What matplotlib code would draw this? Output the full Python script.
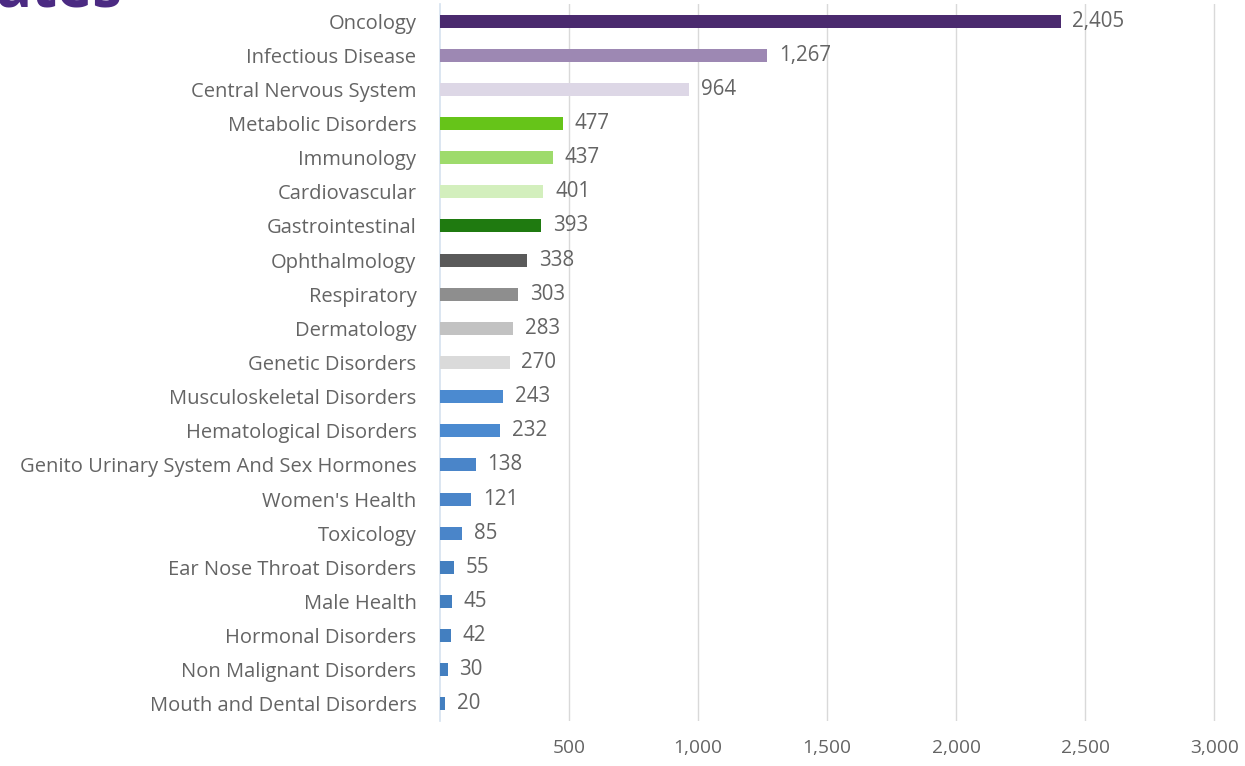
import matplotlib.pyplot as plt
from matplotlib.ticker import FuncFormatter

categories = [
    "Oncology", "Infectious Disease", "Central Nervous System", "Metabolic Disorders",
    "Immunology", "Cardiovascular", "Gastrointestinal", "Ophthalmology", "Respiratory",
    "Dermatology", "Genetic Disorders", "Musculoskeletal Disorders",
    "Hematological Disorders", "Genito Urinary System And Sex Hormones",
    "Women's Health", "Toxicology", "Ear Nose Throat Disorders", "Male Health",
    "Hormonal Disorders", "Non Malignant Disorders", "Mouth and Dental Disorders",
]
counts = [2405, 1267, 964, 477, 437, 401, 393, 338, 303, 283, 270,
          243, 232, 138, 121, 85, 55, 45, 42, 30, 20]
bar_colors = [
    "#4a2a6e", "#9d88b3", "#ddd7e6", "#66c419", "#9edb6c", "#d3efbd", "#1f7a10",
    "#5a5a5a", "#8e8e8e", "#c2c2c2", "#dadada",
    "#4b8ad0", "#4b8ad0", "#4a85c9", "#4a85c9", "#4a85c9", "#437fc0", "#437fc0",
    "#437fc0", "#437fc0", "#437fc0",
]
x_ticks = [500, 1000, 1500, 2000, 2500, 3000]

plt.rcParams["font.family"] = ["Open Sans", "DejaVu Sans"]
text_grey = "#646464"

W, H = 1245, 766
fig = plt.figure(figsize=(W / 100, H / 100), dpi=100)
ax = fig.add_axes([440 / W, (H - 721) / H, 800 / W, 717 / H])

ypos = list(range(len(categories)))
ax.barh(ypos, counts, height=0.38, color=bar_colors, zorder=3)

for y, v in zip(ypos, counts):
    ax.annotate(f"{v:,}", xy=(v, y), xytext=(8.5, 0), textcoords="offset points",
                va="center", ha="left", fontsize=14.8, color=text_grey, zorder=4)

ax.set_xlim(0, 3100)
ax.set_ylim(len(categories) - 0.5, -0.5)
ax.set_yticks(ypos)
ax.set_yticklabels(categories, fontsize=14.5, color=text_grey)
ax.set_xticks(x_ticks)
ax.xaxis.set_major_formatter(FuncFormatter(lambda v, p: f"{int(v):,}"))
ax.tick_params(axis="x", length=0, pad=13, labelsize=13.8, labelcolor=text_grey)
ax.tick_params(axis="y", length=0, pad=17)

ax.grid(axis="x", color="#d9d9d9", linewidth=1, zorder=0)
for s in ["top", "right", "bottom"]:
    ax.spines[s].set_visible(False)
ax.spines["left"].set_color("#d5e1ef")
ax.spines["left"].set_linewidth(1.2)

# heading tail peeking in at the top edge
fig.text(-4 / W, 1 - 7 / H, "ates", fontsize=43, color="#4b2a82",
         fontweight="bold", va="baseline", ha="left")

fig.savefig("out.png", dpi=100)
